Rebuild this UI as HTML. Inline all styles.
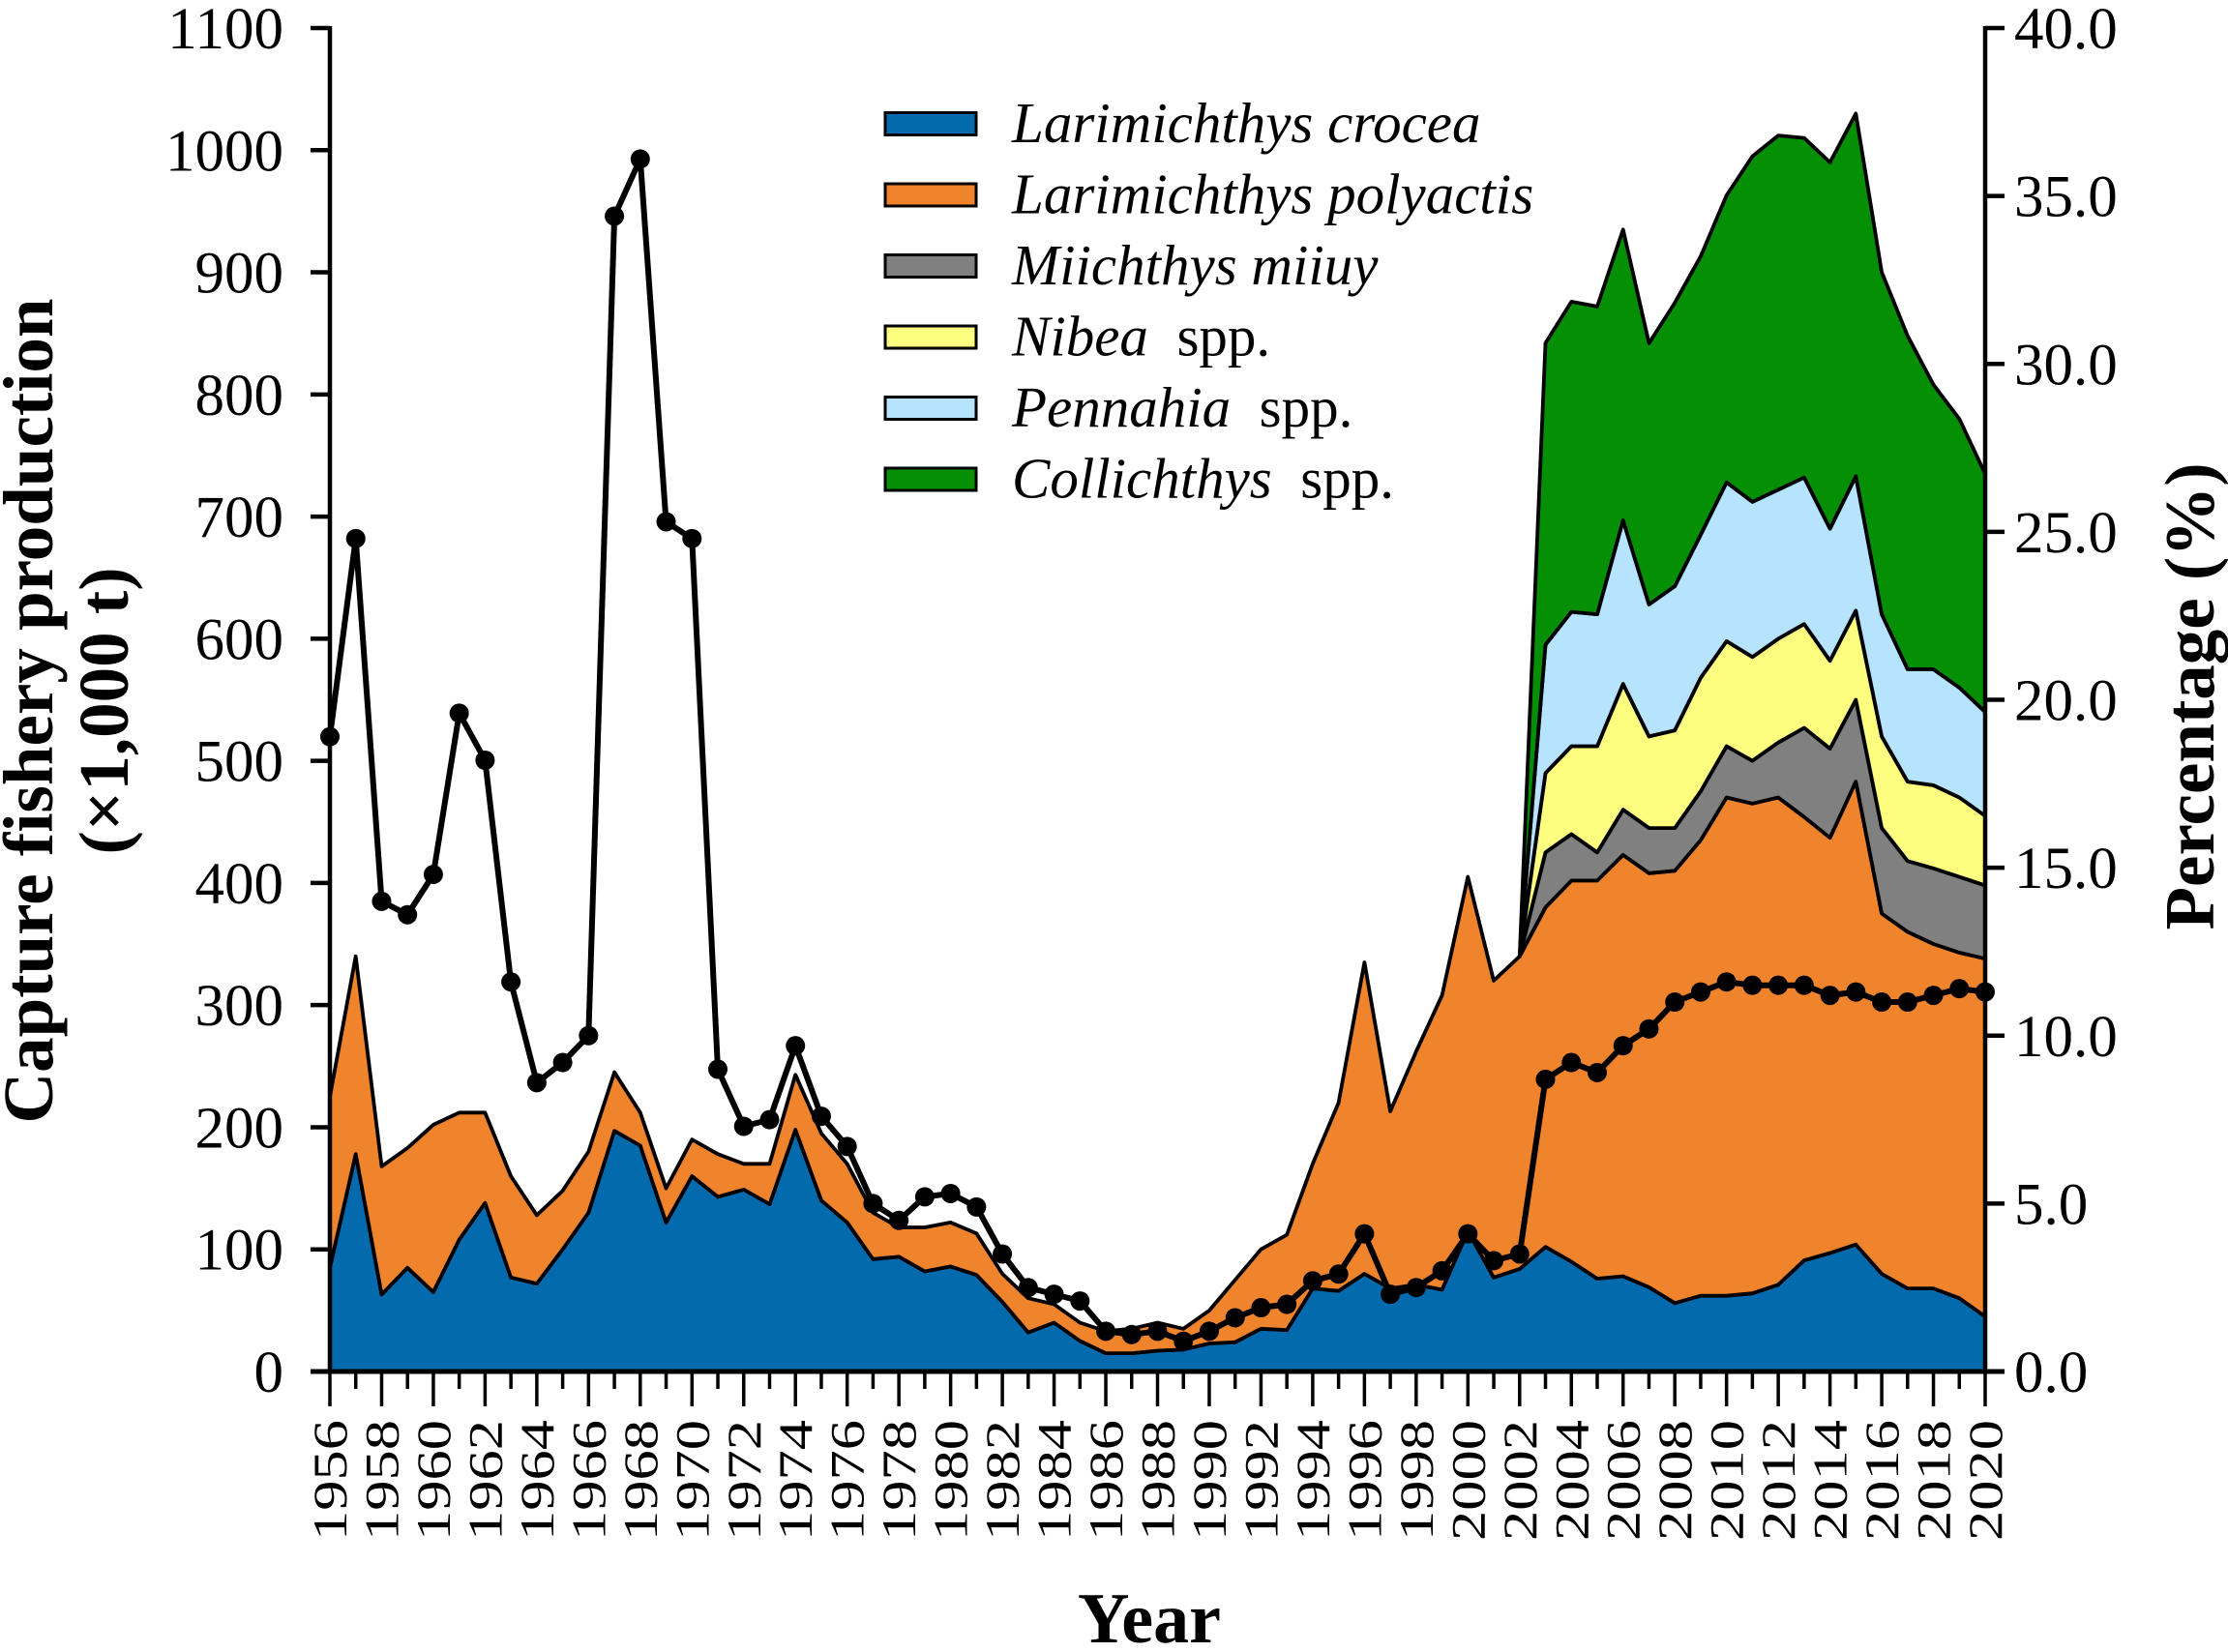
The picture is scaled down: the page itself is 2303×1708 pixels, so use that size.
<!DOCTYPE html>
<html><head><meta charset="utf-8"><style>
html,body{margin:0;padding:0;background:#fff}
svg{display:block;font-family:"Liberation Serif","Times New Roman",serif}
</style></head><body>
<svg id="chart" width="2303" height="1708" viewBox="0 0 2303 1708" xmlns="http://www.w3.org/2000/svg">
<g id="areas"></g>
<g id="line"></g>
<g id="axes"></g>
<g id="legend"></g>
<text transform="translate(54,735) rotate(-90)" text-anchor="middle" font-size="73" font-weight="bold">Capture fishery production</text>
<text transform="translate(132,735) rotate(-90)" text-anchor="middle" font-size="73" font-weight="bold">(×1,000 t)</text>
<text transform="translate(2288,720) rotate(-90)" text-anchor="middle" font-size="73" font-weight="bold">Percentage (%)</text>
<text x="1188" y="1698" text-anchor="middle" font-size="74" font-weight="bold">Year</text>
</svg>
<script>
const startYear = 1956;
const endYear = 2020;
const crocea = [85,178,63,85,65,108,138,77,72,100,130,197,185,122,160,143,149,137,198,140,122,92,94,82,86,79,57,32,40,25,15,15,17,18,23,24,35,34,68,66,80,68,71,67,115,77,84,102,90,76,78,69,56,62,62,64,71,91,97,104,80,68,68,60,45];
const polyactis = [140,162,105,98,137,104,74,83,56,48,50,48,27,28,30,35,21,33,45,55,48,38,24,36,36,34,23,28,15,15,18,20,23,17,27,51,65,78,102,154,255,145,191,241,290,243,256,278,312,326,345,339,354,373,408,401,399,363,340,379,295,292,282,283,293];
const minorStartYear = 2002;
const miiuy = [0,45,38,23,37,37,35,40,42,35,45,73,73,67,70,58,62,62,60];
const nibea = [0,65,72,87,103,75,80,93,86,85,85,85,72,73,75,65,68,65,57];
const pennahia = [0,105,110,108,134,108,118,117,130,127,122,120,108,110,100,92,95,90,85];
const collichthys = [0,247,254,252,238,214,232,228,235,283,290,278,300,297,280,273,233,220,195];
const percentage = [18.9,24.8,14.0,13.6,14.8,19.6,18.2,11.6,8.6,9.2,10.0,34.4,36.1,25.3,24.8,9.0,7.3,7.5,9.7,7.6,6.7,5.0,4.5,5.2,5.3,4.9,3.5,2.5,2.3,2.1,1.2,1.1,1.2,0.9,1.2,1.6,1.9,2.0,2.7,2.9,4.1,2.3,2.5,3.0,4.1,3.3,3.5,8.7,9.2,8.9,9.7,10.2,11.0,11.3,11.6,11.5,11.5,11.5,11.2,11.3,11.0,11.0,11.2,11.4,11.3];
const leftTicks = [0,100,200,300,400,500,600,700,800,900,1000,1100];
const rightTicks = ["0.0","5.0","10.0","15.0","20.0","25.0","30.0","35.0","40.0"];
const seriesNames = ["Larimichthys crocea","Larimichthys polyactis","Miichthys miiuy","Nibea","Pennahia","Collichthys"];
const seriesSuffix = ["","","","spp.","spp.","spp."];
const seriesColors = ["#036bad","#ef842c","#808080","#fdfd80","#b6e3fd","#048f04"];

const NS = "http://www.w3.org/2000/svg";
const X0 = 341, X1 = 2052, Y0 = 1418, YT = 29;
const xs = y => X0 + (y - startYear) * (X1 - X0) / (endYear - startYear);
const yL = v => Y0 - v * (Y0 - YT) / 1100;
const yR = v => Y0 - v * (Y0 - YT) / 40;
function mk(tag, attrs, parent) { const e = document.createElementNS(NS, tag); for (const k in attrs) e.setAttribute(k, attrs[k]); parent.appendChild(e); return e; }

const N = endYear - startYear + 1;
function full(arr) { const out = new Array(N).fill(0); arr.forEach((v, i) => { out[minorStartYear - startYear + i] = v; }); return out; }
const layers = [crocea, polyactis, full(miiuy), full(nibea), full(pennahia), full(collichthys)];
const areasG = document.getElementById('areas');
let base = new Array(N).fill(0);
const firstIdx = [0, 0, minorStartYear - startYear, minorStartYear - startYear, minorStartYear - startYear, minorStartYear - startYear];
const areaNames = ['area-crocea','area-polyactis','area-miiuy','area-nibea','area-pennahia','area-collichthys'];
layers.forEach((layer, li) => {
  const top = base.map((b, i) => b + layer[i]);
  let d = '';
  for (let i = firstIdx[li]; i < N; i++) d += (i === firstIdx[li] ? 'M' : 'L') + xs(startYear + i).toFixed(1) + ',' + yL(top[i]).toFixed(1);
  for (let i = N - 1; i >= firstIdx[li]; i--) d += 'L' + xs(startYear + i).toFixed(1) + ',' + yL(base[i]).toFixed(1);
  d += 'Z';
  const p = mk('path', {d: d, fill: seriesColors[li], stroke: '#000', 'stroke-width': 3.8, 'stroke-linejoin': 'round'}, areasG);
  
  
  base = top;
});

const lineG = document.getElementById('line');
let ld = '';
percentage.forEach((v, i) => { ld += (i ? 'L' : 'M') + xs(startYear + i).toFixed(1) + ',' + yR(v).toFixed(1); });
const lp = mk('path', {d: ld, fill: 'none', stroke: '#000', 'stroke-width': 6, 'stroke-linejoin': 'round'}, lineG);


percentage.forEach((v, i) => {
  const c = mk('circle', {cx: xs(startYear + i), cy: yR(v), r: 10, fill: '#000'}, lineG);
  
  
});

const ax = document.getElementById('axes');
const al = mk('line', {x1: X0, y1: YT - 2, x2: X0, y2: Y0 + 2, stroke: '#000', 'stroke-width': 4.5}, ax);


const ar = mk('line', {x1: X1, y1: YT - 2, x2: X1, y2: Y0 + 2, stroke: '#000', 'stroke-width': 4.5}, ax);


const ab = mk('line', {x1: X0 - 20, y1: Y0, x2: X1 + 20, y2: Y0, stroke: '#000', 'stroke-width': 5}, ax);


leftTicks.forEach(v => {
  mk('line', {x1: X0 - 20, y1: yL(v), x2: X0, y2: yL(v), stroke: '#000', 'stroke-width': 4.5}, ax);
  const t = mk('text', {x: X0 - 48, y: yL(v) + 21, 'text-anchor': 'end', 'font-size': 61}, ax);
  t.textContent = v;
  
  
});
rightTicks.forEach(s => {
  const v = parseFloat(s);
  mk('line', {x1: X1, y1: yR(v), x2: X1 + 20, y2: yR(v), stroke: '#000', 'stroke-width': 4.5}, ax);
  const t = mk('text', {x: X1 + 30, y: yR(v) + 21, 'text-anchor': 'start', 'font-size': 61}, ax);
  t.textContent = s;
  
  
});
for (let yr = startYear; yr <= endYear; yr++) {
  const major = (yr % 2 === 0);
  mk('line', {x1: xs(yr), y1: Y0, x2: xs(yr), y2: Y0 + (major ? 36 : 18), stroke: '#000', 'stroke-width': 3.5}, ax);
  if (major) {
    const t = mk('text', {transform: 'translate(' + (xs(yr) + 17) + ',' + (Y0 + 50) + ') rotate(-90) scale(1.25,1)', 'text-anchor': 'end', 'font-size': 50}, ax);
    t.textContent = yr;
    
    
  }
}

const lg = document.getElementById('legend');
seriesNames.forEach((n, i) => {
  const cy = 128 + i * 73.5;
  const r = mk('rect', {x: 915, y: cy - 11.5, width: 94, height: 23, fill: seriesColors[i], stroke: '#000', 'stroke-width': 3}, lg);
  
  
  const t = mk('text', {x: 1046, y: cy + 19, 'font-size': 59}, lg);
  
  
  const it = mk('tspan', {'font-style': 'italic'}, t);
  it.textContent = n;
  if (seriesSuffix[i]) { const sp = mk('tspan', {}, t); sp.textContent = '\u00a0 ' + seriesSuffix[i]; }
});
</script>
</body></html>
